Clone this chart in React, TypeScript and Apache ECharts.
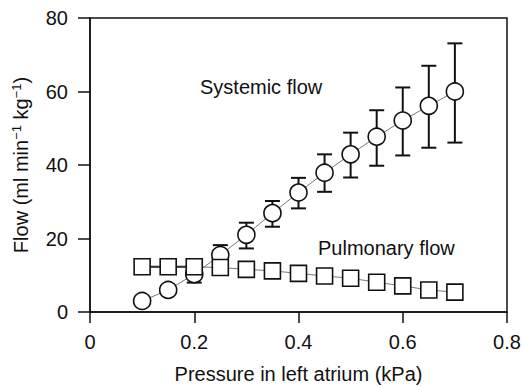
import React, { useEffect, useRef } from "react";
import * as echarts from "echarts";

const pressure = [0.1, 0.15, 0.2, 0.25, 0.3, 0.35, 0.4, 0.45, 0.5, 0.55, 0.6, 0.65, 0.7];
const systemicFlow = [3.0, 6.0, 10.3, 15.5, 21.0, 26.9, 32.5, 37.9, 42.9, 47.7, 52.1, 56.1, 60.0];
const systemicLow = [3.0, 6.0, 8.0, 13.0, 17.3, 23.2, 28.2, 32.7, 36.6, 39.8, 42.6, 44.7, 46.1];
const systemicHigh = [3.0, 6.0, 12.0, 18.2, 24.3, 30.2, 36.5, 42.9, 48.8, 54.9, 61.1, 67.0, 73.1];
const pulmonaryFlow = [12.3, 12.3, 12.3, 12.1, 11.6, 11.2, 10.5, 9.8, 9.2, 8.1, 7.1, 6.0, 5.4];
const pulmonaryPlateauPoints = 3;
const xTicks = [0, 0.2, 0.4, 0.6, 0.8];
const yTicks = [0, 20, 40, 60, 80];

const FONT = "Liberation Sans";
const FS = 20;

export default function App() {
  const ref = useRef<HTMLDivElement>(null);
  useEffect(() => {
    if (!ref.current) return;
    const chart = echarts.init(ref.current, undefined, { renderer: "svg" });
    const errData = pressure.map((p, i) => [p, systemicLow[i], systemicHigh[i]]);
    const pulm = pressure.map((p, i) => [p, pulmonaryFlow[i]]);
    chart.setOption({
      animation: false,
      grid: {
        left: 90,
        right: 15,
        top: 18,
        bottom: 75,
        outerBoundsMode: "none",
        containLabel: false,
        show: true,
        borderColor: "#111",
        borderWidth: 1.5,
        backgroundColor: "transparent",
      },
      xAxis: {
        type: "value",
        min: xTicks[0],
        max: xTicks[xTicks.length - 1],
        interval: 0.2,
        name: "Pressure in left atrium (kPa)",
        nameLocation: "middle",
        nameGap: 52,
        nameTextStyle: { fontFamily: FONT, fontSize: FS, color: "#111" },
        axisLine: { show: true, lineStyle: { color: "#111", width: 1.5 } },
        axisTick: { show: true, inside: false, length: 11, lineStyle: { color: "#111", width: 1.5 } },
        axisLabel: {
          margin: 20,
          fontFamily: FONT,
          fontSize: FS,
          color: "#111",
          formatter: (v: number) => (v === 0 ? "0" : String(Math.round(v * 10) / 10)),
        },
        splitLine: { show: false },
      },
      yAxis: {
        type: "value",
        min: yTicks[0],
        max: yTicks[yTicks.length - 1],
        interval: 20,
        name: "Flow (ml min{sup|−1} kg{sup|−1})",
        nameLocation: "middle",
        nameGap: 58,
        nameRotate: 90,
        nameTextStyle: {
          fontFamily: FONT,
          fontSize: FS,
          color: "#111",
          rich: {
            sup: { fontFamily: FONT, fontSize: 13, color: "#111", verticalAlign: "top", padding: [0, 0, 9, 0] },
          },
        },
        axisLine: { show: true, lineStyle: { color: "#111", width: 1.5 } },
        axisTick: { show: true, inside: false, length: 12, lineStyle: { color: "#111", width: 1.5 } },
        axisLabel: { margin: 22, fontFamily: FONT, fontSize: FS, color: "#111" },
        splitLine: { show: false },
      },
      graphic: [
        {
          type: "text",
          left: 200,
          top: 77,
          style: { text: "Systemic flow", fontFamily: FONT, fontSize: FS, fill: "#111" },
        },
        {
          type: "text",
          left: 318,
          top: 238,
          style: { text: "Pulmonary flow", fontFamily: FONT, fontSize: FS, fill: "#111" },
        },
      ],
      series: [
        {
          type: "custom",
          data: errData,
          z: 1,
          renderItem: (params: any, api: any) => {
            const x = api.value(0);
            const lo = api.coord([x, api.value(1)]);
            const hi = api.coord([x, api.value(2)]);
            const hw = 7.5;
            const style = { stroke: "#111", lineWidth: 2, fill: "none" };
            return {
              type: "group",
              children: [
                { type: "line", shape: { x1: lo[0], y1: lo[1], x2: hi[0], y2: hi[1] }, style },
                { type: "line", shape: { x1: lo[0] - hw, y1: lo[1], x2: lo[0] + hw, y2: lo[1] }, style },
                { type: "line", shape: { x1: hi[0] - hw, y1: hi[1], x2: hi[0] + hw, y2: hi[1] }, style },
              ],
            };
          },
        },
        {
          type: "line",
          name: "Systemic flow",
          data: pressure.map((p, i) => [p, systemicFlow[i]]),
          z: 2,
          symbol: "circle",
          symbolSize: 17,
          lineStyle: { color: "#555", width: 0.8 },
          itemStyle: { color: "#fff", borderColor: "#111", borderWidth: 1.6 },
        },
        {
          type: "line",
          name: "Pulmonary plateau",
          data: pulm.slice(0, pulmonaryPlateauPoints),
          z: 3,
          symbol: "none",
          lineStyle: { color: "#111", width: 2 },
        },
        {
          type: "line",
          name: "Pulmonary flow",
          data: pulm,
          z: 3,
          symbol: "rect",
          symbolSize: 16,
          lineStyle: { color: "#555", width: 0.8 },
          itemStyle: { color: "#fff", borderColor: "#111", borderWidth: 1.6 },
        },
      ],
    });
    return () => chart.dispose();
  }, []);
  return (
    <div
      ref={ref}
      style={{ position: "absolute", left: 0, top: 0, width: 522, height: 387 }}
    />
  );
}
